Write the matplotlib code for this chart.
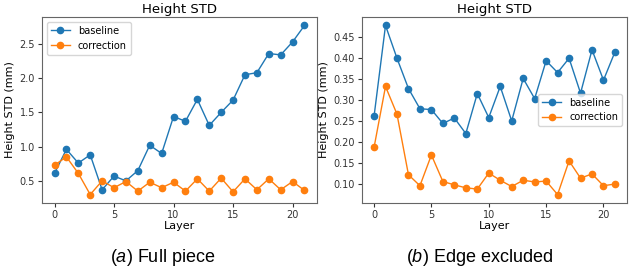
import matplotlib
matplotlib.use("Agg")
from matplotlib import pyplot as plt
import numpy as np

layers = np.arange(22)

# (a) full piece
full_baseline = [0.61, 0.96, 0.76, 0.88, 0.37, 0.57, 0.50, 0.65, 1.02, 0.90, 1.44,
                 1.37, 1.69, 1.31, 1.50, 1.68, 2.05, 2.08, 2.36, 2.34, 2.53, 2.77]
full_correction = [0.73, 0.85, 0.61, 0.30, 0.50, 0.40, 0.49, 0.35, 0.48, 0.40, 0.48,
                   0.35, 0.53, 0.35, 0.54, 0.34, 0.53, 0.37, 0.53, 0.37, 0.49, 0.36]

# (b) edge excluded
edge_baseline = [0.262, 0.478, 0.400, 0.328, 0.280, 0.278, 0.245, 0.258, 0.221, 0.316, 0.259,
                 0.333, 0.251, 0.352, 0.304, 0.394, 0.366, 0.400, 0.317, 0.420, 0.348, 0.415]
edge_correction = [0.188, 0.333, 0.267, 0.123, 0.097, 0.170, 0.107, 0.099, 0.092, 0.089, 0.127,
                   0.110, 0.095, 0.110, 0.106, 0.108, 0.076, 0.156, 0.115, 0.125, 0.097, 0.101]

captions = ['a', 'b']
caption_text = ['Full piece', 'Edge excluded']

plt.rcParams['mathtext.fontset'] = 'custom'
plt.rcParams['mathtext.rm'] = 'Liberation Sans'
plt.rcParams['mathtext.it'] = 'Liberation Sans:italic'

fig = plt.figure(figsize=(6.29, 2.75), dpi=100)
ax1 = fig.add_axes([42 / 629, 72 / 275, 275 / 629, 186 / 275])
ax2 = fig.add_axes([362 / 629, 72 / 275, 265 / 629, 186 / 275])

for ax, base, corr, loc in [(ax1, full_baseline, full_correction, 'upper left'),
                            (ax2, edge_baseline, edge_correction, 'center right')]:
    ax.plot(layers, base, marker='o', markersize=4.5, linewidth=1, color='#1f77b4', label='baseline')
    ax.plot(layers, corr, marker='o', markersize=4.5, linewidth=1, color='#ff7f0e', label='correction')
    ax.set_title('Height STD', fontsize=9.5, pad=3)
    ax.set_xlabel('Layer', fontsize=8, labelpad=1)
    ax.set_ylabel('Height STD (mm)', fontsize=8, labelpad=3)
    ax.tick_params(labelsize=7, length=3, pad=2, colors='#333333')
    ax.set_xticks([0, 5, 10, 15, 20])
    for s in ax.spines.values():
        s.set_color('#666666')
    ax.legend(loc=loc, fontsize=7, handlelength=2)

ax2.set_yticks([0.10, 0.15, 0.20, 0.25, 0.30, 0.35, 0.40, 0.45])

for x, c, t in [(163, captions[0], caption_text[0]), (480, captions[1], caption_text[1])]:
    fig.text(x / 629, 1 - 257 / 275, '($\\mathit{' + c + '}$) ' + t, ha='center', va='center',
             fontsize=13, family='Liberation Sans')

fig.savefig('out.png', dpi=100)
